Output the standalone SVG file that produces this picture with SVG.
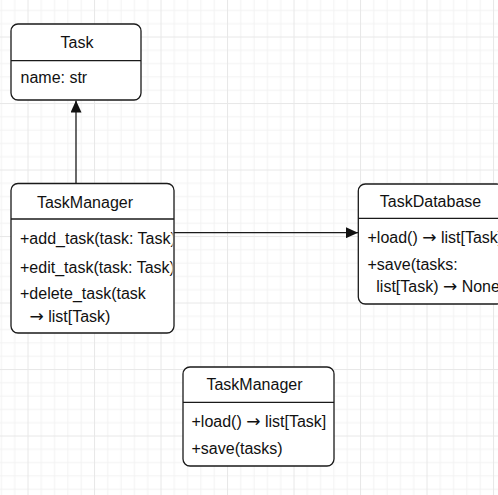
<svg xmlns="http://www.w3.org/2000/svg" width="498" height="495" viewBox="0 0 498 495">
<style>
.box{fill:#fff;stroke:#1a1a1a;stroke-width:1.3}
.div{stroke:#1a1a1a;stroke-width:1.3}
.t{font-family:"Liberation Sans",Arial,sans-serif;font-size:16px;fill:#111}
.c{text-anchor:middle}
.ar{font-family:"DejaVu Sans",sans-serif;font-size:17px}
.edge{stroke:#1a1a1a;stroke-width:1.3;fill:none}
</style>
<defs>
<pattern id="grid" patternUnits="userSpaceOnUse" x="27.5" y="36.5" width="66.5" height="66.5">
<rect x="0" y="0" width="66.5" height="66.5" fill="#fff"/>
<g fill="#f3f3f3">
<rect x="13.3" y="0" width="1" height="66.5"/><rect x="26.6" y="0" width="1" height="66.5"/><rect x="39.9" y="0" width="1" height="66.5"/><rect x="53.2" y="0" width="1" height="66.5"/>
<rect y="13.3" x="0" height="1" width="66.5"/><rect y="26.6" x="0" height="1" width="66.5"/><rect y="39.9" x="0" height="1" width="66.5"/><rect y="53.2" x="0" height="1" width="66.5"/>
</g>
<g fill="#e8e8e8">
<rect x="0" y="0" width="1" height="66.5"/><rect x="0" y="0" width="66.5" height="1"/>
</g>
</pattern>
<marker id="arr" viewBox="0 0 12 11" refX="12" refY="5.5" markerWidth="12" markerHeight="11" markerUnits="userSpaceOnUse" orient="auto">
<path d="M0,0 L12,5.5 L0,11 Z" fill="#111"/>
</marker>
<clipPath id="clipTM"><rect x="11" y="183" width="161.5" height="150"/></clipPath>
<clipPath id="clipTD"><rect x="358" y="184" width="140" height="121"/></clipPath>
</defs>
<rect width="498" height="495" fill="url(#grid)"/>

<g id="connectors">
<line class="edge" x1="76" y1="183.5" x2="76" y2="100.5" marker-end="url(#arr)"/>
<line class="edge" x1="174" y1="232.7" x2="358" y2="232.7" marker-end="url(#arr)"/>
</g>

<g id="task">
<rect class="box" x="11" y="24" width="130" height="76" rx="7"/>
<line class="div" x1="11" y1="60.7" x2="141" y2="60.7"/>
<text class="t c" x="77" y="48">Task</text>
<text class="t" x="20.5" y="83">name: str</text>
</g>

<g id="taskmanager">
<rect class="box" x="11" y="183.5" width="163" height="149.5" rx="7"/>
<line class="div" x1="11" y1="219" x2="174" y2="219"/>
<text class="t c" x="85" y="208">TaskManager</text>
<g clip-path="url(#clipTM)">
<text class="t" x="20" y="244">+add_task(task: Task)</text>
<text class="t" x="20" y="272.5">+edit_task(task: Task)</text>
<text class="t" x="20" y="299">+delete_task(task</text>
<text class="t" x="29.5" y="321.7"><tspan class="ar">→</tspan> list[Task)</text>
</g>
</g>

<g id="taskdatabase">
<rect class="box" x="358.3" y="184" width="145" height="120" rx="7"/>
<line class="div" x1="358.3" y1="218.3" x2="503" y2="218.3"/>
<text class="t c" x="430.5" y="207">TaskDatabase</text>
<g clip-path="url(#clipTD)">
<text class="t" x="367.5" y="242.7">+load() <tspan class="ar">→</tspan> list[Task]</text>
<text class="t" x="367.5" y="270">+save(tasks:</text>
<text class="t" x="376.3" y="291.7">list[Task) <tspan class="ar">→</tspan> None</text>
</g>
</g>

<g id="taskmanager2">
<rect class="box" x="183" y="367" width="151" height="99" rx="7"/>
<line class="div" x1="183" y1="402.3" x2="334" y2="402.3"/>
<text class="t c" x="254.5" y="390">TaskManager</text>
<text class="t" x="191.5" y="426.5">+load() <tspan class="ar">→</tspan> list[Task]</text>
<text class="t" x="191.5" y="453.5">+save(tasks)</text>
</g>
</svg>
